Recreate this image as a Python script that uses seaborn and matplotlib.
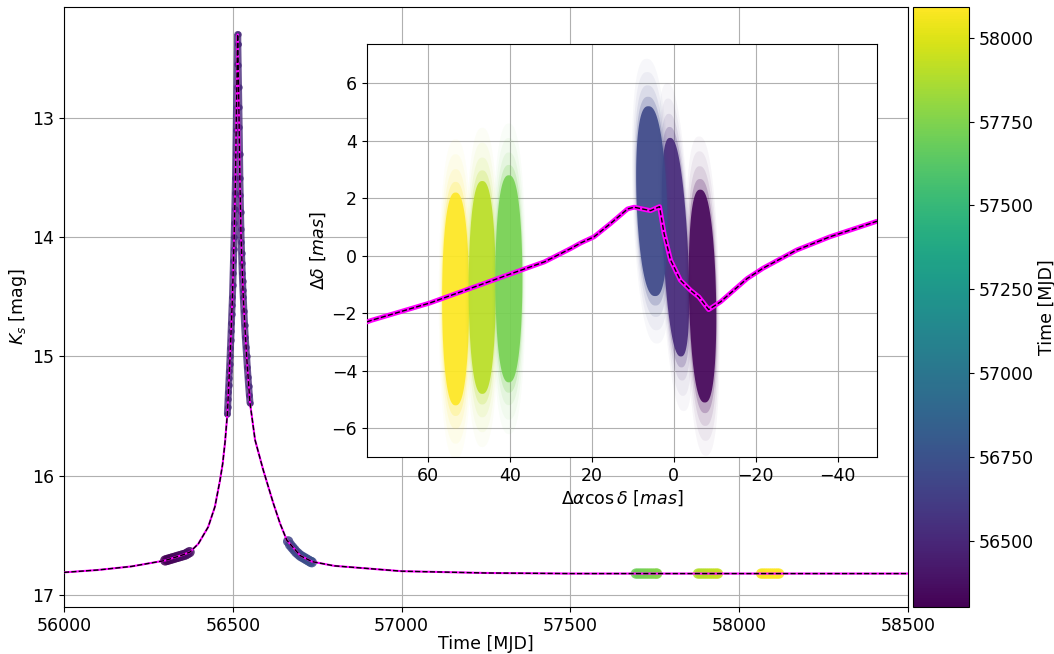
import numpy as np
import matplotlib
matplotlib.use("Agg")
import matplotlib.pyplot as plt
import matplotlib.colors as mcolors
import seaborn as sns
import pandas as pd

# model light curve
model_mjd = [56000, 56100, 56200, 56300, 56350, 56373, 56398, 56427, 56447, 56462, 56470,
             56477, 56484, 56492, 56499, 56504, 56508, 56510.5, 56512.5, 56513.5, 56514.5,
             56515.5, 56516.5, 56518.5, 56521, 56524.5, 56531, 56541, 56551, 56566, 56590,
             56620, 56640, 56660, 56700, 56735, 56800, 57000, 57250, 57500, 58000, 58500]
model_ks = [16.81, 16.79, 16.76, 16.71, 16.665, 16.64, 16.57, 16.43, 16.26, 16.04, 15.90,
            15.72, 15.48, 15.00, 14.50, 14.00, 13.50, 13.00, 12.65, 12.45, 12.30,
            12.45, 12.65, 13.00, 13.50, 14.00, 14.50, 15.00, 15.39, 15.70, 15.95,
            16.23, 16.40, 16.54, 16.67, 16.72, 16.755, 16.80, 16.815, 16.82, 16.82, 16.82]

# observations around the peak (season 2013)
peak_mjd = [56484, 56485, 56486, 56487, 56488, 56489, 56490, 56491, 56492, 56493, 56494,
            56495, 56496, 56497, 56498, 56499, 56500, 56501, 56502, 56503, 56504, 56505,
            56506, 56507, 56508, 56509, 56510, 56511, 56512, 56513, 56514, 56514.5,
            56515, 56516, 56517, 56518, 56519, 56520, 56521, 56522, 56523, 56524, 56525,
            56526, 56527, 56528, 56529, 56530, 56531, 56533, 56535, 56537, 56539, 56541,
            56543, 56545, 56547, 56549, 56551]
peak_ks = [15.48, 15.42, 15.36, 15.30, 15.24, 15.18, 15.12, 15.06, 15.00, 14.93, 14.86,
           14.79, 14.72, 14.64, 14.57, 14.50, 14.40, 14.30, 14.20, 14.10, 14.00, 13.88,
           13.76, 13.63, 13.50, 13.30, 13.10, 12.91, 12.74, 12.55, 12.38, 12.30,
           12.38, 12.56, 12.74, 12.91, 13.08, 13.30, 13.50, 13.65, 13.79, 13.93, 14.04,
           14.13, 14.22, 14.30, 14.37, 14.44, 14.50, 14.62, 14.74, 14.84, 14.92, 15.00,
           15.09, 15.17, 15.25, 15.32, 15.39]

# other seasons
obs_mjd = [56300, 56306, 56312, 56318, 56324, 56330, 56336, 56342, 56348, 56354, 56360, 56366, 56372,
           56664, 56670, 56676, 56682, 56688, 56694, 56700, 56706, 56712, 56718, 56724, 56730, 56734,
           57694, 57700, 57706, 57712, 57718, 57724, 57730, 57736, 57742, 57748, 57754, 57757,
           57878, 57884, 57890, 57896, 57902, 57908, 57914, 57920, 57926, 57932, 57937,
           58065, 58071, 58077, 58083, 58089, 58095, 58101, 58107, 58113, 58118]
obs_ks = [16.71, 16.705, 16.70, 16.695, 16.69, 16.685, 16.68, 16.675, 16.67, 16.665, 16.66, 16.65, 16.64,
          16.55, 16.58, 16.60, 16.62, 16.64, 16.655, 16.67, 16.68, 16.69, 16.70, 16.71, 16.72, 16.725,
          16.82, 16.82, 16.82, 16.82, 16.82, 16.82, 16.82, 16.82, 16.82, 16.82, 16.82, 16.82,
          16.82, 16.82, 16.82, 16.82, 16.82, 16.82, 16.82, 16.82, 16.82, 16.82, 16.82,
          16.82, 16.82, 16.82, 16.82, 16.82, 16.82, 16.82, 16.82, 16.82, 16.82]

# astrometric model track
track_dra = [75, 73.8, 59.6, 39.7, 31.6, 25.1, 22.7, 19.5, 15.4, 11.3, 9.7, 5.7, 3.5,
             2.4, 0.8, -1.6, -4.1, -6.1, -8.5, -11.4, -17.9, -21.8, -30.0, -38.1, -49.6]
track_ddec = [-2.30, -2.24, -1.64, -0.62, -0.21, 0.26, 0.45, 0.66, 1.13, 1.63, 1.69, 1.57, 1.71,
              0.78, -0.15, -0.85, -1.20, -1.43, -1.87, -1.60, -0.79, -0.43, 0.20, 0.66, 1.20]

# astrometric epochs: mean time, centre, half extent of the point cloud, tilt
cloud_mjd = [58092, 57907, 57725, 56515, 56700, 56336]
cloud_dra = [53.3, 46.8, 40.3, -0.4, 5.4, -7.0]
cloud_ddec = [-1.5, -1.1, -0.8, 0.3, 1.9, -1.4]
cloud_wra = [3.3, 3.3, 3.3, 3.0, 3.7, 3.3]
cloud_hdec = [3.7, 3.7, 3.6, 3.8, 3.3, 3.7]
cloud_tilt = [0.0, 0.0, 0.0, 0.35, 0.25, 0.15]

cbar_ticks = [56500, 56750, 57000, 57250, 57500, 57750, 58000]
mjd_min, mjd_max = 56302, 58092

sns.set_style("ticks", {"axes.grid": True, "grid.color": "#b0b0b0",
                        "axes.edgecolor": "black", "text.color": "black",
                        "xtick.color": "black", "ytick.color": "black",
                        "axes.labelcolor": "black"})
plt.rcParams["font.family"] = ["DejaVu Sans"]
plt.rcParams["font.size"] = 12.5
plt.rcParams["grid.linewidth"] = 0.8
plt.rcParams["axes.labelpad"] = 2.5

norm = mcolors.Normalize(vmin=mjd_min, vmax=mjd_max)
cmap = plt.get_cmap("viridis")

fig = plt.figure(figsize=(10.54, 6.54), dpi=100)
ax = fig.add_axes([0.0607, 0.0719, 0.8008, 0.9174])
cax = fig.add_axes([0.866, 0.0719, 0.053, 0.9174])
axin = fig.add_axes([0.348, 0.301, 0.484, 0.632])

# light curve
df_obs = pd.DataFrame({"mjd": obs_mjd, "ks": obs_ks})
df_peak = pd.DataFrame({"mjd": peak_mjd, "ks": peak_ks})
peak_col = cmap(norm(np.mean(peak_mjd)))
sns.scatterplot(data=df_obs, x="mjd", y="ks", hue="mjd", palette="viridis", hue_norm=norm,
                s=55, alpha=0.85, linewidth=0, legend=False, ax=ax, zorder=2)
# the peak season is densely sampled: draw it as a continuous band of points
sns.lineplot(data=df_peak, x="mjd", y="ks", color=peak_col, lw=5, alpha=0.8, sort=False,
             solid_capstyle="round", ax=ax, zorder=2)
sns.scatterplot(data=df_peak, x="mjd", y="ks", color=peak_col, s=22, alpha=0.8,
                linewidth=0, legend=False, ax=ax, zorder=2)
sns.lineplot(x=model_mjd, y=model_ks, color="magenta", lw=1.5, sort=False, ax=ax, zorder=3)
sns.lineplot(x=model_mjd, y=model_ks, color="black", lw=1.0, linestyle="--", sort=False, ax=ax, zorder=4)

ax.set_xlim(56000, 58500)
ax.set_ylim(17.1, 12.07)
ax.set_xlabel("Time [MJD]", labelpad=0.5)
ax.set_ylabel("$K_s$ [mag]")
ax.tick_params(labelsize=12.5)

# colorbar
sm = plt.cm.ScalarMappable(norm=norm, cmap=cmap)
cb = fig.colorbar(sm, cax=cax)
cb.set_ticks(cbar_ticks)
cb.set_label("Time [MJD]", fontsize=12.5, labelpad=3)
cb.ax.tick_params(labelsize=12.5)

# astrometry inset
theta = np.linspace(0, 2 * np.pi, 160)
cx_shape = np.sign(np.cos(theta)) * np.abs(np.cos(theta)) ** 0.8
layers = [(1.25, 1.5, 0.04), (1.18, 1.36, 0.06), (1.11, 1.22, 0.1), (1.05, 1.1, 0.22), (1.0, 1.0, 0.9)]
for t, cx, cy, w, h, k in zip(cloud_mjd, cloud_dra, cloud_ddec, cloud_wra, cloud_hdec, cloud_tilt):
    col = cmap(norm(t))
    for fw, fh, a in layers:
        xs = cx + w * fw * cx_shape + k * h * fh * np.sin(theta)
        ys = cy + h * fh * np.sin(theta)
        axin.fill(xs, ys, color=col, alpha=a, lw=0, zorder=1)

sns.lineplot(x=track_dra, y=track_ddec, color="magenta", lw=3.5, sort=False, ax=axin, zorder=3)
sns.lineplot(x=track_dra, y=track_ddec, color="black", lw=1.0, linestyle="--", sort=False, ax=axin, zorder=4)

axin.set_xlim(75, -49.6)
axin.set_ylim(-7.0, 7.37)
axin.set_xlabel(r"$\Delta\alpha\cos\delta\ [mas]$")
axin.set_ylabel(r"$\Delta\delta\ [mas]$")
axin.tick_params(labelsize=12.5)
axin.set_facecolor("white")

fig.savefig("out.png", dpi=100)
